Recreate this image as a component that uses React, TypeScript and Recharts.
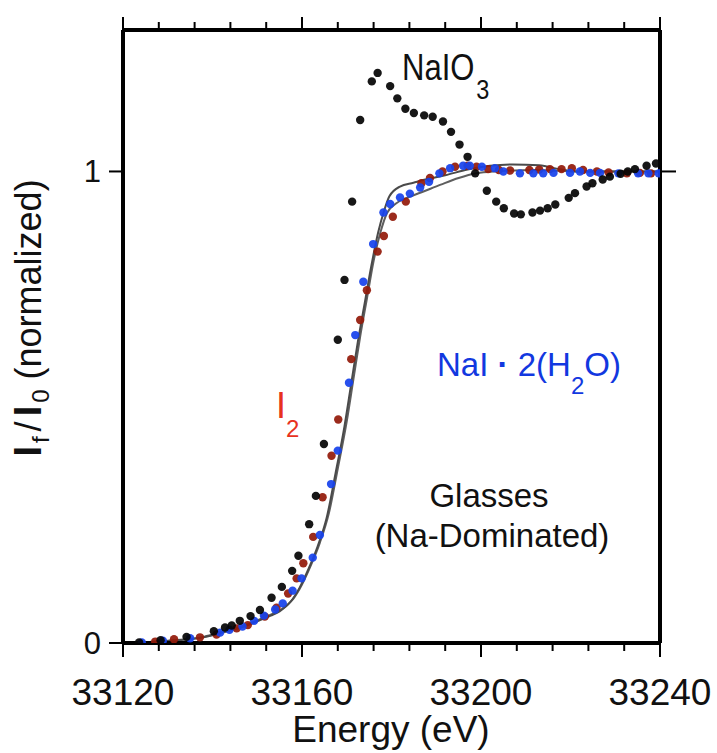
import React from 'react';
import { ComposedChart, Scatter, Line, XAxis, YAxis } from 'recharts';

const majorTicks = [33120, 33160, 33200, 33240];
const minorTicks = [33120, 33128, 33136, 33144, 33152, 33160, 33168, 33176, 33184, 33192, 33200, 33208, 33216, 33224, 33232, 33240];
const leftTicks = [0, 1];
const rightTicks = [1];

// NaIO3 (black dots)
const naio3Energy = [33123.6, 33128.4, 33134.2, 33140.3, 33142.8, 33144.3, 33146.1, 33148.5, 33150.6, 33153.2, 33155.5, 33157.8, 33159.2, 33161.6, 33163.1, 33164.9, 33168.0, 33169.5, 33171.2, 33173.0, 33175.6, 33176.9, 33179.7, 33181.3, 33183.1, 33185.0, 33187.3, 33189.2, 33191.5, 33193.3, 33195.2, 33197.0, 33198.7, 33201.3, 33203.4, 33205.1, 33207.4, 33208.9, 33211.5, 33213.2, 33214.9, 33216.6, 33219.6, 33221.0, 33223.6, 33224.9, 33227.2, 33228.8, 33231.2, 33232.8, 33234.4, 33237.0, 33239.1];
const naio3Value = [0.001, 0.006, 0.013, 0.025, 0.033, 0.037, 0.047, 0.057, 0.070, 0.096, 0.119, 0.153, 0.185, 0.252, 0.312, 0.422, 0.643, 0.770, 0.936, 1.109, 1.191, 1.209, 1.181, 1.155, 1.133, 1.124, 1.119, 1.116, 1.106, 1.084, 1.057, 1.031, 0.996, 0.959, 0.936, 0.922, 0.911, 0.909, 0.913, 0.917, 0.922, 0.930, 0.944, 0.954, 0.968, 0.975, 0.983, 0.989, 0.995, 1.000, 1.005, 1.012, 1.017];

// I2 (dark red dots)
const i2Energy = [33127.2, 33131.4, 33137.2, 33140.9, 33145.4, 33147.9, 33151.7, 33154.3, 33156.9, 33158.8, 33160.3, 33162.5, 33164.6, 33166.6, 33168.1, 33171.0, 33173.0, 33174.5, 33176.9, 33178.3, 33180.3, 33183.2, 33186.7, 33188.6, 33191.4, 33194.2, 33197.0, 33199.0, 33201.6, 33204.0, 33206.5, 33210.8, 33213.0, 33215.4, 33218.0, 33220.3, 33222.8, 33225.9, 33228.5, 33232.6, 33235.5, 33238.0];
const i2Value = [0.003, 0.008, 0.012, 0.018, 0.031, 0.038, 0.056, 0.075, 0.105, 0.137, 0.169, 0.225, 0.309, 0.397, 0.474, 0.602, 0.685, 0.748, 0.830, 0.863, 0.904, 0.936, 0.975, 0.986, 1.000, 1.010, 1.012, 1.010, 1.005, 1.003, 1.002, 1.003, 1.004, 1.005, 1.005, 1.007, 1.003, 1.000, 0.998, 0.996, 0.997, 0.996];

// NaI.2(H2O) (blue dots)
const naiEnergy = [33124.2, 33128.9, 33135.0, 33141.7, 33143.8, 33146.7, 33149.3, 33151.5, 33154.0, 33155.7, 33157.9, 33159.9, 33162.4, 33164.0, 33166.5, 33168.0, 33170.5, 33171.9, 33173.7, 33175.9, 33178.2, 33179.7, 33181.9, 33184.1, 33186.4, 33188.4, 33190.7, 33193.1, 33196.0, 33197.5, 33200.2, 33203.1, 33205.0, 33208.7, 33211.7, 33213.9, 33216.2, 33219.9, 33222.1, 33224.4, 33226.6, 33230.7, 33235.1, 33237.4, 33239.7];
const naiValue = [0.001, 0.005, 0.010, 0.022, 0.028, 0.035, 0.047, 0.058, 0.071, 0.084, 0.111, 0.137, 0.181, 0.229, 0.337, 0.408, 0.552, 0.653, 0.766, 0.846, 0.913, 0.931, 0.945, 0.953, 0.966, 0.978, 0.996, 1.007, 1.012, 1.012, 1.010, 1.007, 1.000, 0.996, 0.996, 0.996, 0.997, 0.997, 1.000, 0.997, 0.997, 0.996, 0.996, 0.996, 0.996];

// Glasses (two grey curves)
const glassAEnergy = [33120, 33130, 33138, 33143, 33147, 33150, 33153, 33155, 33157.5, 33159.5, 33161.5, 33163.5, 33165.5, 33167.5, 33169.5, 33171, 33172.5, 33174, 33175.5, 33177, 33178.3, 33179.5, 33181.9, 33184.9, 33188, 33192, 33197, 33202, 33207, 33213, 33218, 33222, 33230, 33240];
const glassAValue = [0, 0.004, 0.012, 0.024, 0.035, 0.046, 0.058, 0.067, 0.088, 0.118, 0.158, 0.205, 0.265, 0.36, 0.46, 0.55, 0.64, 0.72, 0.80, 0.87, 0.915, 0.947, 0.968, 0.976, 0.984, 0.992, 1.004, 1.012, 1.015, 1.013, 1.004, 1.0, 1.0, 1.0];
const glassBEnergy = [33120, 33130, 33138, 33143, 33147, 33150, 33153, 33155.5, 33158, 33160, 33162, 33164, 33166, 33168, 33170, 33171.5, 33173, 33174.5, 33176, 33177.5, 33179, 33181, 33184, 33187, 33191, 33195, 33199, 33203, 33212, 33222, 33240];
const glassBValue = [0, 0.005, 0.013, 0.026, 0.037, 0.048, 0.060, 0.072, 0.093, 0.124, 0.165, 0.213, 0.275, 0.37, 0.47, 0.56, 0.65, 0.73, 0.81, 0.87, 0.912, 0.932, 0.946, 0.957, 0.972, 0.986, 0.996, 1.0, 1.003, 1.0, 1.0];

const pairs = (e: number[], v: number[]) => e.map((x, i) => ({ x, y: v[i] }));

const FONT = '"Liberation Sans", Arial, Helvetica, sans-serif';

const BottomTick = (props: any) => {
  const { x, y, payload } = props;
  const major = majorTicks.includes(payload.value);
  return (
    <g>
      <line x1={x} x2={x} y1={y} y2={y + (major ? 14 : 8)} stroke="#000" strokeWidth={2} />
      {major && (
        <text x={x} y={y + 62} textAnchor="middle" fontSize={37} fontFamily={FONT} fill="#111">
          {payload.value}
        </text>
      )}
    </g>
  );
};

const TopTick = (props: any) => {
  const { x, y, payload } = props;
  const major = majorTicks.includes(payload.value);
  return <line x1={x} x2={x} y1={y} y2={y - (major ? 13 : 8)} stroke="#000" strokeWidth={2} />;
};

const LeftTick = (props: any) => {
  const { x, y, payload } = props;
  return (
    <g>
      <line x1={x} x2={x - 14} y1={y} y2={y} stroke="#000" strokeWidth={2} />
      <text x={x - 22} y={y + 11} textAnchor="end" fontSize={31} fontFamily={FONT} fill="#111">
        {payload.value}
      </text>
    </g>
  );
};

const RightTick = (props: any) => {
  const { x, y } = props;
  return <line x1={x} x2={x + 16} y1={y} y2={y} stroke="#000" strokeWidth={2} />;
};

const dot = (color: string) => (p: any) => <circle cx={p.cx} cy={p.cy} r={4.2} fill={color} fillOpacity={0.93} />;

export default function App() {
  const axisLine = { stroke: '#000', strokeWidth: 4 };
  return (
    <div style={{ position: 'absolute', left: 0, top: 0, width: 717, height: 753, background: '#fff' }}>
      <ComposedChart width={717} height={753} margin={{ top: 0, right: 0, bottom: 0, left: 0 }}>
        <XAxis xAxisId="b" type="number" dataKey="x" domain={[33120, 33240]} ticks={minorTicks} interval={0} stroke="#000"
          tick={<BottomTick />} tickLine={false} tickSize={0} tickMargin={0} axisLine={axisLine} height={110} allowDataOverflow />
        <XAxis xAxisId="t" orientation="top" type="number" dataKey="x" domain={[33120, 33240]} ticks={minorTicks} interval={0} stroke="#000"
          tick={<TopTick />} tickLine={false} tickSize={0} tickMargin={0} axisLine={axisLine} height={30} allowDataOverflow />
        <YAxis yAxisId="l" type="number" domain={[0, 1.3]} ticks={leftTicks} interval={0} stroke="#000"
          tick={<LeftTick />} tickLine={false} tickSize={0} tickMargin={0} axisLine={axisLine} width={123} allowDataOverflow />
        <YAxis yAxisId="r" orientation="right" type="number" domain={[0, 1.3]} ticks={rightTicks} interval={0} stroke="#000"
          tick={<RightTick />} tickLine={false} tickSize={0} tickMargin={0} axisLine={axisLine} width={57} allowDataOverflow />

        <Line xAxisId="b" yAxisId="l" data={pairs(glassBEnergy, glassBValue)} dataKey="y" type="monotone"
          stroke="#5e5e5e" strokeWidth={2} dot={false} isAnimationActive={false} />
        <Line xAxisId="b" yAxisId="l" data={pairs(glassAEnergy, glassAValue)} dataKey="y" type="monotone"
          stroke="#4a4a4a" strokeWidth={2} dot={false} isAnimationActive={false} />

        <Scatter xAxisId="b" yAxisId="l" data={pairs(i2Energy, i2Value)} dataKey="y" shape={dot('#931b0b')} isAnimationActive={false} />
        <Scatter xAxisId="b" yAxisId="l" data={pairs(naiEnergy, naiValue)} dataKey="y" shape={dot('#1843ec')} isAnimationActive={false} />
        <Scatter xAxisId="b" yAxisId="l" data={pairs(naio3Energy, naio3Value)} dataKey="y" shape={dot('#050505')} isAnimationActive={false} />
      </ComposedChart>

      <svg width={717} height={753} style={{ position: 'absolute', left: 0, top: 0, pointerEvents: 'none' }} fontFamily={FONT}>
        <text x={391} y={742} textAnchor="middle" fontSize={37} fill="#111">Energy (eV)</text>
        <text transform="translate(41,318) rotate(-90)" textAnchor="middle" fontSize={36} fill="#111">
          <tspan fontWeight="bold" fontSize={38}>I</tspan>
          <tspan fontSize={24} dy={8} dx={3}>f</tspan>
          <tspan dy={-8} dx={5}>/</tspan>
          <tspan fontWeight="bold" fontSize={38} dx={5}>I</tspan>
          <tspan fontSize={24} dy={8} dx={3}>0</tspan>
          <tspan dy={-8} dx={10}>(normalized)</tspan>
        </text>
        <text transform="translate(402,80) scale(0.84,1)" fontSize={37} fill="#111">
          NaIO<tspan fontSize={28} dy={19} dx={2}>3</tspan>
        </text>
        <text x={437} y={376} fontSize={33} fill="#1238e0">
          NaI <tspan fontWeight="bold">·</tspan> 2(H<tspan fontSize={24} dy={18}>2</tspan><tspan dy={-18}>O)</tspan>
        </text>
        <text x={276} y={418} fontSize={36} fill="#e8321e">
          I<tspan fontSize={24} dy={19}>2</tspan>
        </text>
        <text x={489} y={507} textAnchor="middle" fontSize={33} fill="#111">Glasses</text>
        <text x={492} y={547} textAnchor="middle" fontSize={33} fill="#111">(Na-Dominated)</text>
      </svg>
    </div>
  );
}
